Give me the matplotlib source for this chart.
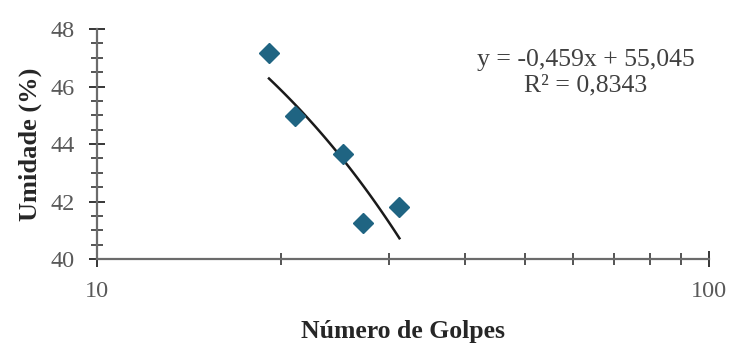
import numpy as np
import matplotlib.pyplot as plt
from matplotlib.ticker import MultipleLocator, LogLocator, NullFormatter, FixedLocator

# Ensaio de limite de liquidez
golpes = [19.1, 21.1, 25.2, 27.2, 31.2]
umidade = [47.15, 44.97, 43.64, 41.24, 41.82]

# Linha de tendência (equação e R² do ajuste)
slope = -0.459
intercept = 55.045
eq_text = 'y = -0,459x + 55,045\nR² = 0,8343'

plt.rcParams['font.family'] = ['Liberation Serif', 'DejaVu Serif']

fig = plt.figure(figsize=(7.33, 3.45), dpi=100)
ax = fig.add_axes([0.1323, 0.249, 0.835, 0.667])

x_fit = np.linspace(min(golpes), max(golpes), 100)
ax.plot(x_fit, slope * x_fit + intercept, color='#1a1a1a', lw=1.8, zorder=2)
ax.plot(golpes, umidade, 'D', color='#1f6482', ms=10, mec='#1f6482', zorder=3)

ax.set_xscale('log')
ax.set_xlim(10, 100)
ax.set_ylim(40, 48)
ax.xaxis.set_major_locator(FixedLocator([10, 100]))
ax.xaxis.set_major_formatter(plt.FuncFormatter(lambda v, p: f'{v:.0f}'))
ax.xaxis.set_minor_locator(LogLocator(base=10, subs=np.arange(2, 10)))
ax.xaxis.set_minor_formatter(NullFormatter())
ax.yaxis.set_major_locator(MultipleLocator(2))
ax.yaxis.set_minor_locator(MultipleLocator(0.5))

for s in ['top', 'right']:
    ax.spines[s].set_visible(False)
for s in ['left', 'bottom']:
    ax.spines[s].set_color('#6b6b6b')
    ax.spines[s].set_linewidth(1.6)

ax.tick_params(which='major', direction='inout', length=12, width=1.3,
               color='#262626', labelsize=17.5, labelcolor='#595959')
ax.tick_params(which='minor', direction='inout', length=8, width=1.1,
               color='#262626')
ax.tick_params(axis='y', which='major', pad=10)
ax.tick_params(axis='x', which='major', pad=10)

ax.set_xlabel('Número de Golpes', fontsize=18.5, fontweight='bold',
              color='#262626', labelpad=13)
ax.set_ylabel('Umidade (%)', fontsize=19, fontweight='bold',
              color='#262626', labelpad=6)

ax.text(0.799, 0.81, eq_text, transform=ax.transAxes, ha='center', va='center',
        fontsize=18.5, color='#404040', linespacing=1.2)

fig.savefig('out.png', dpi=100)
